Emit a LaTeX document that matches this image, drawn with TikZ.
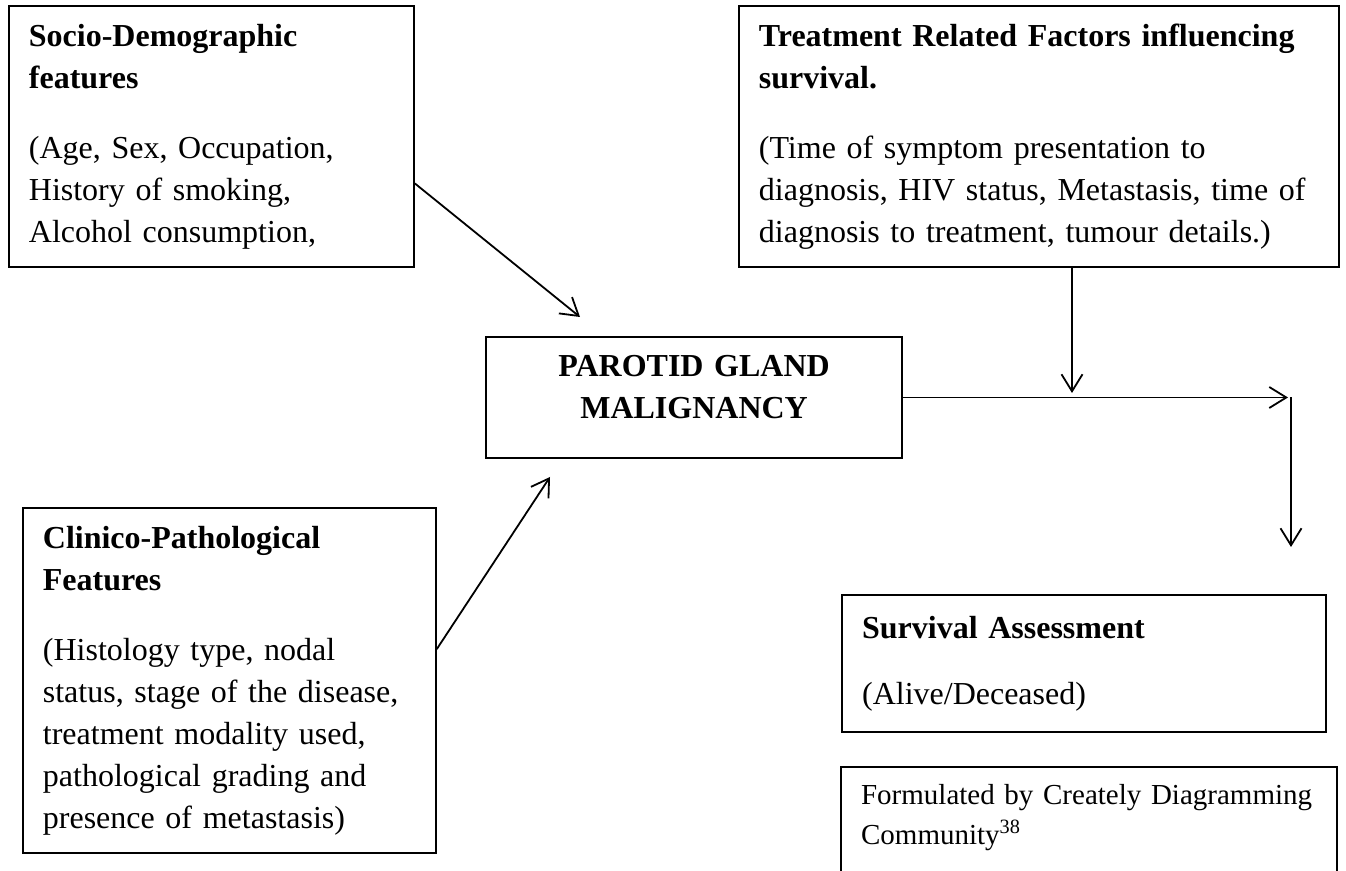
\documentclass[tikz,border=0pt]{standalone}
\usepackage{fontspec}
\setmainfont{Liberation Serif}
\usetikzlibrary{arrows.meta,positioning,calc}

\tikzset{
  box/.style={draw, line width=0.9pt, align=left, inner xsep=10pt, inner ysep=9pt,
    font=\fontsize{16}{21}\selectfont},
  link/.style={line width=0.9pt, -{Straight Barb[length=8.5pt,width=10.5pt]}},
}

\begin{document}
\begin{tikzpicture}[x=0.5pt, y=-0.5pt]
\useasboundingbox (0,0) rectangle (1346,871);

% the four boxes round the tumour
\node[box, text width=182.5pt, anchor=north west] (socio) at (8,5)
  {\textbf{Socio-Demographic}\\ \textbf{features}\\[14pt]
   (Age, Sex, Occupation,\\ History of smoking,\\ Alcohol consumption,};
\node[box, text width=280pt, anchor=north west] (treat) at (738,5)
  {\textbf{Treatment Related Factors influencing}\\ \textbf{survival.}\\[14pt]
   (Time of symptom presentation to\\ diagnosis, HIV status, Metastasis, time of\\
   diagnosis to treatment, tumour details.)};
\node[box, align=center, text width=188pt, anchor=north east] (parotid) at (903,336)
  {\textbf{PAROTID GLAND}\\ \textbf{MALIGNANCY}\\[-10pt]\mbox{}};
\node[box, text width=186.5pt, anchor=south west] (clinico) at (22,854)
  {\textbf{Clinico-Pathological}\\ \textbf{Features}\\[14pt]
   (Histology type, nodal\\ status, stage of the disease,\\ treatment modality used,\\
   pathological grading and\\ presence of metastasis)};

% outcome side
\node[box, text width=222pt, inner ysep=10.5pt, anchor=north east] (survival) at (1327,594)
  {\textbf{Survival Assessment}\\[12pt] (Alive/Deceased)};
\node[box, draw=none, text width=228pt, inner xsep=9.5pt, inner ysep=8pt, anchor=north east,
  font=\fontsize{14.5}{20}\selectfont] (formed) at (1337,767)
  {Formulated by Creately Diagramming\\ Community\textsuperscript{38}};
\draw[line width=0.9pt] ([yshift=-20pt]formed.south west) |- (formed.north east)
  -- ([yshift=-20pt]formed.south east);

% connectors
\coordinate (tipA) at (580,317);
\coordinate (tipB) at (550,477);
\coordinate (join) at (1072,393);
\coordinate (corner) at (1288,0);
\coordinate (down) at (1291,547);
\draw[link] ([yshift=-23.5pt]socio.east) -- (tipA);
\draw[link] ([yshift=15.75pt]clinico.east) -- (tipB);
\draw[link] (treat.south -| join) -- (join);
\draw[link] (parotid.east) -- (parotid.east -| corner);
\draw[link] (parotid.east -| down) -- (down);
\end{tikzpicture}
\end{document}
